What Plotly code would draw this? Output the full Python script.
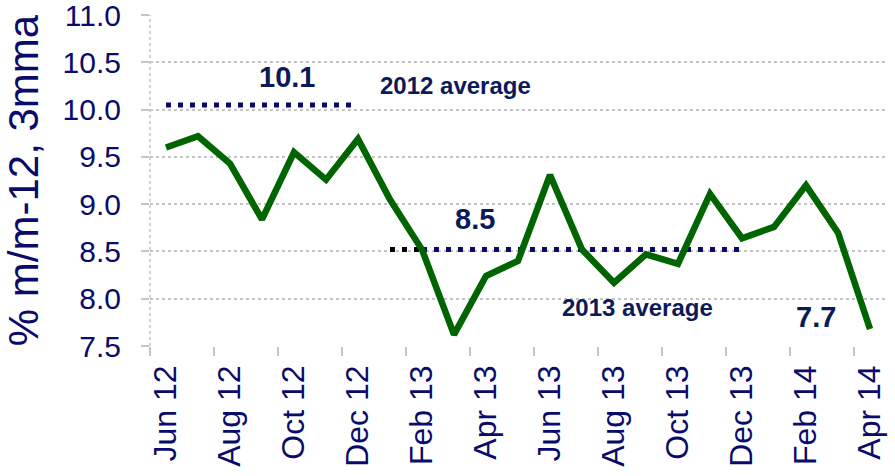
import plotly.graph_objects as go

months = ["Jun 12", "Jul 12", "Aug 12", "Sep 12", "Oct 12", "Nov 12", "Dec 12",
          "Jan 13", "Feb 13", "Mar 13", "Apr 13", "May 13", "Jun 13", "Jul 13",
          "Aug 13", "Sep 13", "Oct 13", "Nov 13", "Dec 13", "Jan 14", "Feb 14",
          "Mar 14", "Apr 14"]
values = [9.60, 9.72, 9.43, 8.84, 9.55, 9.26, 9.69,
          9.05, 8.52, 7.62, 8.24, 8.40, 9.31, 8.52,
          8.17, 8.47, 8.37, 9.11, 8.64, 8.76, 9.20,
          8.70, 7.68]
avg2012 = 10.05
avg2013 = 8.52
avg2012_span = ["Jun 12", "Dec 12"]
avg2013_black_span = ["Jan 13", "Feb 13"]
avg2013_span = ["Feb 13", "Dec 13"]
yticks = [7.5, 8.0, 8.5, 9.0, 9.5, 10.0, 10.5, 11.0]

idx = {m: i for i, m in enumerate(months)}
xs = list(range(len(months)))

NAVY = "#0b0b6b"
ANN = "#0c1a5a"
GRID = "#c4c4c4"
FONT = "Liberation Sans, Arial, sans-serif"

fig = go.Figure()
fig.add_trace(go.Scatter(
    x=[idx[m] for m in avg2012_span], y=[avg2012] * 2, mode="lines",
    line=dict(color="#0a0a66", width=5, dash="5px,7px"), hoverinfo="skip"))
fig.add_trace(go.Scatter(
    x=[idx[m] for m in avg2013_black_span], y=[avg2013] * 2, mode="lines",
    line=dict(color="#000000", width=5, dash="5px,7px"), hoverinfo="skip"))
fig.add_trace(go.Scatter(
    x=[idx[m] for m in avg2013_span], y=[avg2013] * 2, mode="lines",
    line=dict(color="#0a0a66", width=5, dash="5px,7px"), hoverinfo="skip"))
fig.add_trace(go.Scatter(
    x=xs, y=values, mode="lines",
    line=dict(color="#006400", width=6.5), hoverinfo="skip"))

annots = [
    ("10.1", 3.78, 10.35, 29),
    ("2012 average", 9.06, 10.255, 24),
    ("8.5", 9.66, 8.84, 29),
    ("2013 average", 14.72, 7.91, 24),
    ("7.7", 20.31, 7.81, 29),
]
for text, ax, ay, size in annots:
    fig.add_annotation(x=ax, y=ay, text="<b>%s</b>" % text, showarrow=False,
                       font=dict(family=FONT, size=size, color=ANN),
                       xanchor="center", yanchor="middle")

# dotted left axis line
fig.add_shape(type="line", xref="paper", yref="paper", x0=0, x1=0, y0=0, y1=1,
              line=dict(color=GRID, width=1.5, dash="dot"))

fig.update_layout(
    width=895, height=476,
    margin=dict(l=150, r=9, t=15, b=130),
    paper_bgcolor="white", plot_bgcolor="white",
    showlegend=False,
    font=dict(family=FONT, color=NAVY),
    xaxis=dict(
        range=[-0.5, len(months) - 0.5], automargin=False,
        tickmode="array", tickvals=xs[::2], ticktext=months[::2],
        tickangle=-90, ticks="", showgrid=False, zeroline=False,
        showline=False, ticklabeloverflow="allow",
        tickfont=dict(size=32, color=NAVY, family=FONT),
        ticklabelstandoff=12,
        minor=dict(tickmode="array", tickvals=[i - 0.5 for i in xs[::2]],
                   ticks="outside", ticklen=9, tickwidth=1.5, tickcolor=GRID,
                   showgrid=False),
    ),
    yaxis=dict(
        range=[7.5, 11.002], tickmode="array", tickvals=yticks, automargin=False,
        ticktext=["%.1f" % v for v in yticks], ticklabeloverflow="allow",
        showgrid=True, gridcolor=GRID, griddash="dot", gridwidth=1.5,
        zeroline=False, showline=False,
        ticks="outside", ticklen=8, tickwidth=1.5, tickcolor=GRID,
        tickfont=dict(size=30, color=NAVY, family=FONT),
        ticklabelstandoff=14,
        title=dict(text="% m/m-12, 3mma", font=dict(size=42, color=NAVY, family=FONT),
                   standoff=12),
    ),
)

fig.write_html("out.html", config={"displayModeBar": False},
               post_script="document.body.style.margin='0px';document.body.style.overflow='hidden';")
